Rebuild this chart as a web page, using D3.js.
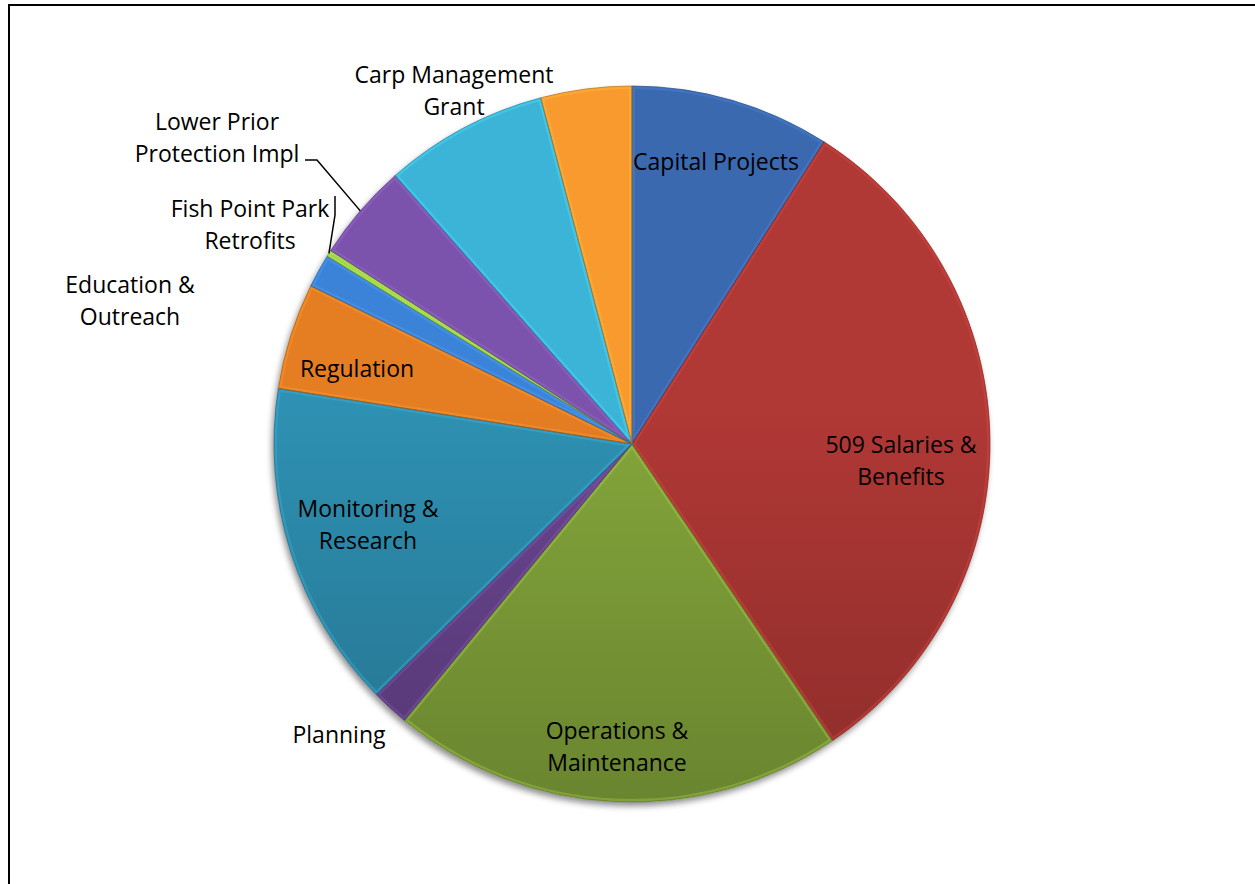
<!DOCTYPE html>
<html>
<head>
<meta charset="utf-8">
<script src="https://cdn.jsdelivr.net/npm/d3@7/dist/d3.min.js"></script>
<style>
    html, body { margin: 0; padding: 0; background: #fff; }
    svg { display: block; }
    .label { font-family: "Open Sans", Lato, sans-serif; font-size: 23px; fill: #000; }
</style>
</head>
<body>
<div id="chart"></div>
<script>
// Budget share per category (percent)
const categories = [
    'Capital Projects', '509 Salaries & Benefits', 'Operations & Maintenance', 'Planning',
    'Monitoring & Research', 'Regulation', 'Education & Outreach', 'Fish Point Park Retrofits',
    'Lower Prior Protection Impl', 'Carp Management Grant', ''
];
const values = [9.0, 31.5, 20.4, 1.7, 14.8, 4.8, 1.5, 0.3, 4.4, 7.4, 4.1];
const colors = [
    '#3a69b0', '#b03834', '#84a63a', '#6a4490', '#2e90b2', '#e57d24',
    '#3b83d8', '#99c945', '#7b53ac', '#3bb4d8', '#f89a2e'
];
// Label lines as they are wrapped in the chart
const labelLines = [
    ['Capital Projects'], ['509 Salaries &', 'Benefits'], ['Operations &', 'Maintenance'], ['Planning'],
    ['Monitoring &', 'Research'], ['Regulation'], ['Education &', 'Outreach'], ['Fish Point Park', 'Retrofits'],
    ['Lower Prior', 'Protection Impl'], ['Carp Management', 'Grant'], []
];

// Layout
const W = 1255, H = 884,
    cx = 632, cy = 444, R = 358,
    lineH = 32;
// label centres (x, y of first line) and leader line start for outside labels
const labelPos = {
    'Capital Projects': [716, 161],
    '509 Salaries & Benefits': [901, 444],
    'Operations & Maintenance': [617, 730],
    'Planning': [339, 734],
    'Monitoring & Research': [368, 508],
    'Regulation': [357, 368],
    'Education & Outreach': [130, 284],
    'Fish Point Park Retrofits': [250, 208],
    'Lower Prior Protection Impl': [217, 121],
    'Carp Management Grant': [454, 74]
};
const leaders = {
    'Fish Point Park Retrofits': [[335, 196], [335, 215]],
    'Lower Prior Protection Impl': [[305, 160], [317, 160]]
};

const svg = d3.select('#chart').append('svg')
    .attr('width', W).attr('height', H);

const defs = svg.append('defs');
const shadow = defs.append('filter').attr('id', 'shadow')
    .attr('x', '-10%').attr('y', '-10%').attr('width', '120%').attr('height', '120%');
shadow.append('feDropShadow')
    .attr('dx', -2).attr('dy', 4).attr('stdDeviation', 3)
    .attr('flood-color', '#000').attr('flood-opacity', 0.45);

const shade = defs.append('linearGradient').attr('id', 'shade')
    .attr('x1', 0).attr('y1', 0).attr('x2', 0).attr('y2', 1);
shade.append('stop').attr('offset', '0%').attr('stop-color', '#fff').attr('stop-opacity', 0.0);
shade.append('stop').attr('offset', '45%').attr('stop-color', '#000').attr('stop-opacity', 0.0);
shade.append('stop').attr('offset', '100%').attr('stop-color', '#000').attr('stop-opacity', 0.2);

// frame
svg.append('rect')
    .attr('x', 9).attr('y', 5).attr('width', W + 20).attr('height', H + 20)
    .attr('fill', 'none').attr('stroke', '#000').attr('stroke-width', 2);

const data = categories.map((c, i) => ({ name: c, value: values[i], color: colors[i], lines: labelLines[i] }));

const pie = d3.pie().sort(null).value(d => d.value);
const arc = d3.arc().innerRadius(0).outerRadius(R);
const arcs = pie(data);

const g = svg.append('g').attr('transform', `translate(${cx},${cy})`);

// clip paths for bevel highlights
arcs.forEach((a, i) => {
    defs.append('clipPath').attr('id', `clip${i}`)
        .append('path').attr('d', arc(a));
});

const slices = g.append('g').attr('filter', 'url(#shadow)');
slices.selectAll('path.slice')
    .data(arcs)
    .enter()
    .append('path')
    .attr('class', 'slice')
    .attr('d', arc)
    .attr('fill', d => d.data.color);

// global lighting
g.append('circle').attr('r', R).attr('fill', 'url(#shade)');

// bevel: light band inside each slice edge, dark seam
g.selectAll('path.bevel')
    .data(arcs)
    .enter()
    .append('path')
    .attr('class', 'bevel')
    .attr('d', arc)
    .attr('clip-path', (d, i) => `url(#clip${i})`)
    .attr('fill', 'none')
    .attr('stroke', d => d3.color(d.data.color).brighter(0.6))
    .attr('stroke-opacity', 0.4)
    .attr('stroke-width', 6);

g.selectAll('path.seam')
    .data(arcs)
    .enter()
    .append('path')
    .attr('class', 'seam')
    .attr('d', arc)
    .attr('fill', 'none')
    .attr('stroke', d => d3.color(d.data.color).darker(0.9))
    .attr('stroke-opacity', 0.7)
    .attr('stroke-width', 1);

// leader lines for the small slices
arcs.forEach(a => {
    const pts = leaders[a.data.name];
    if (!pts) return;
    const mid = (a.startAngle + a.endAngle) / 2;
    const end = [cx + R * Math.sin(mid), cy - R * Math.cos(mid)];
    svg.append('path')
        .attr('d', d3.line()([...pts, end]))
        .attr('fill', 'none')
        .attr('stroke', '#000')
        .attr('stroke-width', 1.5);
});

// labels
data.forEach(d => {
    const p = labelPos[d.name];
    if (!p || !d.lines.length) return;
    const t = svg.append('text')
        .attr('class', 'label')
        .attr('text-anchor', 'middle')
        .attr('x', p[0]).attr('y', p[1])
        .attr('dominant-baseline', 'central');
    d.lines.forEach((ln, k) => {
        t.append('tspan').attr('x', p[0]).attr('y', p[1] + k * lineH).text(ln);
    });
});
</script>
</body>
</html>
